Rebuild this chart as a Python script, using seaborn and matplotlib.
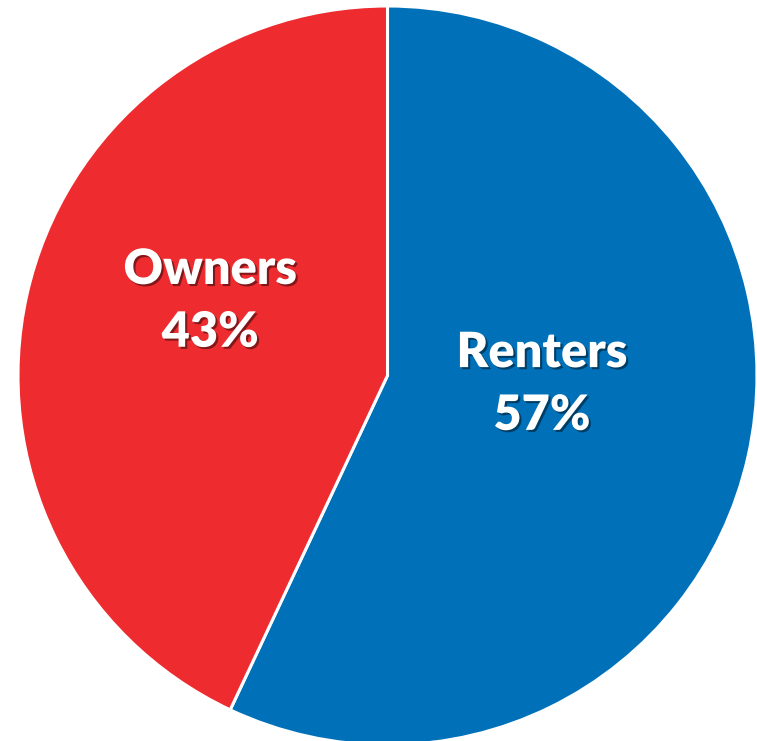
import matplotlib
matplotlib.use("Agg")
import matplotlib.pyplot as plt
import matplotlib.patheffects as pe
import seaborn as sns

# ================= DATA =================
labels = ["Renters", "Owners"]
shares = [57, 43]
colors = ["#0070B9", "#EE2B2F"]

sns.set_theme(style="white")
plt.rcParams["font.family"] = ["Lato", "DejaVu Sans"]

fig = plt.figure(figsize=(7.57, 7.41), dpi=100)
ax = fig.add_axes([18 / 757, -4 / 741, 739 / 757, 739 / 741])

wedges, _ = ax.pie(
    shares,
    colors=colors,
    startangle=90,
    counterclock=False,
    radius=1,
    wedgeprops=dict(edgecolor="white", linewidth=2.2),
)
ax.set_xlim(-1, 1)
ax.set_ylim(-1, 1)
ax.set_aspect("equal")
ax.axis("off")

shadow = [pe.SimplePatchShadow(offset=(1.5, -1.5), alpha=0.45, shadow_rgbFace="black"),
          pe.Normal()]

# label positions (axes fraction)
label_pos = [(0.709, 0.4885), (0.260, 0.601)]
for lab, val, (x, y) in zip(labels, shares, label_pos):
    ax.text(x, y, f"{lab}\n{val}%", transform=ax.transAxes,
            ha="center", va="center", color="white", fontsize=35,
            fontweight="heavy", linespacing=1.48, path_effects=shadow)

plt.savefig("out.png", dpi=100)
